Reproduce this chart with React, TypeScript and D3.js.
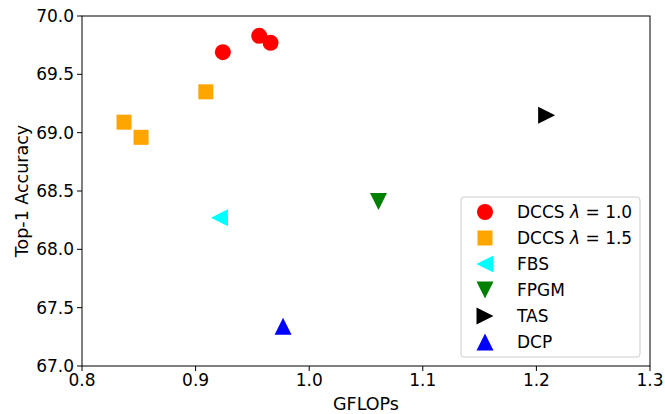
import React from "react";
import * as d3 from "d3";

const seriesNames = ["DCCS λ = 1.0", "DCCS λ = 1.5", "FBS", "FPGM", "TAS", "DCP"];
const seriesColors = ["#ff0000", "#ffa500", "#00ffff", "#008000", "#000000", "#0000ff"];
const seriesMarkers = ["circle", "square", "triLeft", "triDown", "triRight", "triUp"];
const seriesX = [[0.924, 0.956, 0.966], [0.837, 0.852, 0.909], [0.921], [1.061], [1.209], [0.977]];
const seriesY = [[69.69, 69.83, 69.77], [69.09, 68.96, 69.35], [68.27], [68.41], [69.15], [67.34]];
const xTicks = [0.8, 0.9, 1.0, 1.1, 1.2, 1.3];
const yTicks = [67.0, 67.5, 68.0, 68.5, 69.0, 69.5, 70.0];

const W = 665, H = 414;
const L = 82, R = 650, T = 16, B = 366;
const font = "DejaVu Sans, sans-serif";
const FS = 17;

function Marker({ kind, cx, cy, color }: { kind: string; cx: number; cy: number; color: string }) {
  const r = 8;
  if (kind === "circle") return <circle cx={cx} cy={cy} r={r} fill={color} />;
  if (kind === "square") return <rect x={cx - 7.5} y={cy - 7.5} width={15} height={15} fill={color} />;
  const s = 8.5;
  let pts: [number, number][] = [];
  if (kind === "triUp") pts = [[cx, cy - s], [cx - s, cy + s], [cx + s, cy + s]];
  if (kind === "triDown") pts = [[cx, cy + s], [cx - s, cy - s], [cx + s, cy - s]];
  if (kind === "triLeft") pts = [[cx - s, cy], [cx + s, cy - s], [cx + s, cy + s]];
  if (kind === "triRight") pts = [[cx + s, cy], [cx - s, cy - s], [cx - s, cy + s]];
  return <polygon points={pts.map((p) => p.join(",")).join(" ")} fill={color} />;
}

function Label({ name, x, y }: { name: string; x: number; y: number }) {
  const parts = name.split("λ");
  if (parts.length === 1)
    return <text x={x} y={y} fontSize={FS} fontFamily={font} dominantBaseline="central">{name}</text>;
  return (
    <text x={x} y={y} fontSize={FS} fontFamily={font} dominantBaseline="central">
      {parts[0]}
      <tspan fontStyle="italic">λ</tspan>
      {parts[1]}
    </text>
  );
}

export default function App() {
  const x = d3.scaleLinear().domain([0.8, 1.3]).range([L, R]);
  const y = d3.scaleLinear().domain([67, 70]).range([B, T]);
  return (
    <svg width={W} height={H} style={{ position: "absolute", left: 0, top: 0, background: "#fff" }}>
      <rect x={0} y={0} width={W} height={H} fill="#fff" />
      {seriesNames.map((n, i) =>
        seriesX[i].map((xv, j) => (
          <Marker key={n + j} kind={seriesMarkers[i]} cx={x(xv)} cy={y(seriesY[i][j])} color={seriesColors[i]} />
        ))
      )}
      <rect x={L} y={T} width={R - L} height={B - T} fill="none" stroke="#000" strokeWidth={1} />
      {xTicks.map((t) => (
        <g key={t}>
          <line x1={x(t)} x2={x(t)} y1={B} y2={B + 5} stroke="#000" />
          <text x={x(t)} y={B + 7} fontSize={FS} fontFamily={font} textAnchor="middle" dominantBaseline="hanging">
            {t.toFixed(1)}
          </text>
        </g>
      ))}
      {yTicks.map((t) => (
        <g key={t}>
          <line x1={L - 5} x2={L} y1={y(t)} y2={y(t)} stroke="#000" />
          <text x={L - 8} y={y(t)} fontSize={FS} fontFamily={font} textAnchor="end" dominantBaseline="central">
            {t.toFixed(1)}
          </text>
        </g>
      ))}
      <text x={(L + R) / 2} y={410} fontSize={17.5} fontFamily={font} textAnchor="middle">GFLOPs</text>
      <text transform={`translate(28,${(T + B) / 2}) rotate(-90)`} fontSize={17.5} fontFamily={font} textAnchor="middle">
        Top-1 Accuracy
      </text>
      <rect x={461} y={197} width={179} height={160} rx={3} fill="#fff" fillOpacity={0.8} stroke="#ccc" />
      {seriesNames.map((n, i) => {
        const ry = 212 + i * 26;
        return (
          <g key={n}>
            <Marker kind={seriesMarkers[i]} cx={485} cy={ry} color={seriesColors[i]} />
            <Label name={n} x={517} y={ry} />
          </g>
        );
      })}
    </svg>
  );
}
